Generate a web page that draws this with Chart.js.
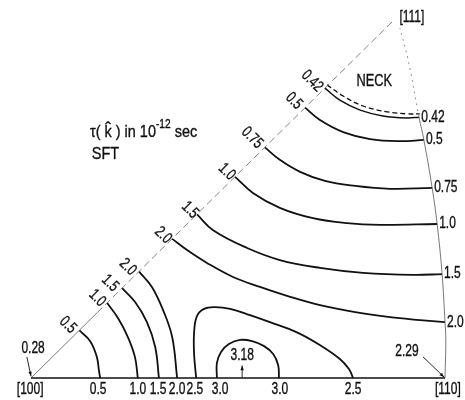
<!DOCTYPE html>
<html>
<head>
<meta charset="utf-8">
<script src="https://cdn.jsdelivr.net/npm/chart.js@4/dist/chart.umd.min.js"></script>
<style>
  html, body { margin: 0; padding: 0; background: #fff; }
  canvas { display: block; }
</style>
</head>
<body>
<canvas id="tau" width="465" height="400"></canvas>
<script>
// Irreducible triangle: [100] at the origin, [110] at x = 100 (same units on both axes)
const edgeBottom = [[0, 0], [100, 0]];
const edgeLeftLow = [[0, 0], [16, 15.8]];
const edgeLeftHigh = [[16, 15.8], [87.4, 86.2]];
const edgeRight = [[100, 0], [100.2, 9.2], [100, 13.5], [99.3, 25.1], [98.1, 37.2], [96.9, 45.9], [94.9, 57.5], [93.7, 63.0]];
const edgeRightTop = [[93.7, 63.0], [91.1, 76.8], [89.1, 84.5]];

// Contours of tau(k) in 1e-12 s, lower family ([100]-edge to bottom edge)
const tau050Low = [[11.7, 11.5], [14.3, 8.9], [15.9, 5.1], [16.4, 1.9], [16.7, 0]];
const tau100Low = [[18.4, 18.1], [21.0, 14.5], [23.4, 9.9], [25.1, 5.1], [25.8, 0]];
const tau150Low = [[22.0, 21.7], [25.1, 18.4], [28.0, 13.5], [30.0, 7.5], [30.9, 0]];
const tau200Low = [[26.1, 25.7], [29.2, 22.0], [31.9, 16.4], [34.1, 9.9], [35.3, 0]];
const tau250 = [[39.9, 0], [39.4, 5.6], [39.4, 11.1], [40.1, 15.0], [41.8, 16.7], [44.4, 17.1], [48.1, 16.7],
                [52.9, 15.2], [57.7, 13.5], [64.5, 10.9], [70.5, 7.5], [74.6, 4.6], [76.8, 2.2], [77.8, 0]];
const tau300 = [[44.9, 0], [44.9, 3.6], [45.9, 6.3], [47.8, 8.2], [50.5, 9.2], [53.4, 8.9], [56.3, 7.7],
                [58.5, 5.8], [59.7, 3.1], [59.9, 0]];

// Upper family (left edge to right edge)
const tau200High = [[34.1, 33.6], [37.7, 30.9], [42.5, 27.8], [48.8, 24.4], [55.3, 22.0], [62.6, 19.6],
                    [69.8, 17.6], [78.3, 15.9], [86.7, 14.7], [94.0, 14.0], [100, 13.5]];
const tau150High = [[40.1, 39.5], [44.0, 35.7], [52.2, 31.4], [60.1, 28.5], [69.8, 26.6], [80.2, 25.4],
                    [92.3, 24.9], [99.3, 25.1]];
const tau100High = [[49.3, 48.6], [53.6, 44.7], [60.1, 41.1], [68.1, 38.6], [76.3, 37.4], [84.3, 37.0], [98.1, 37.2]];
const tau075 = [[56.5, 55.7], [60.1, 52.7], [65.0, 49.8], [71.0, 47.6], [78.3, 46.4], [86.7, 45.7], [96.9, 45.9]];
const tau050High = [[66.2, 65.3], [69.8, 62.3], [75.4, 59.4], [81.9, 57.7], [89.1, 57.2], [94.9, 57.5]];
const tau042 = [[71.0, 70.0], [74.6, 67.1], [79.5, 64.7], [85.0, 63.3], [90.8, 62.8], [93.8, 63.0]];
const tau042Neck = [[71.5, 70.8], [75.4, 68.1], [80.2, 65.7], [86.0, 64.3], [90.8, 63.8], [93.9, 63.8]];

const upperContours = [tau200High, tau150High, tau100High, tau075, tau050High, tau042];
const upperLevels = ['2.0', '1.5', '1.0', '0.75', '0.5', '0.42'];

// Level labels along the [100]-[111] edge
const leftLabelText = ['0.5', '1.0', '1.5', '2.0', '2.0', '1.5', '1.0', '0.75', '0.5', '0.42'];
const leftLabelX = [8.9, 16.0, 19.1, 23.4, 31.9, 38.4, 47.3, 53.4, 63.5, 67.9];
const leftLabelY = [12.8, 19.3, 22.9, 26.8, 34.5, 40.6, 49.8, 58.0, 66.9, 71.7];

// Labels under the [100]-[110] edge
const bottomLabelText = ['[100]', '0.5', '1.0', '1.5', '2.0', '2.5', '3.0', '3.0', '2.5', '[110]'];
const bottomLabelX = [-0.2, 16.2, 25.8, 30.7, 35.3, 39.6, 45.7, 60.1, 77.8, 100.7];

// Extremal values with arrows: text, label position, arrow tail, arrow head
const extremaText = ['0.28', '3.18', '2.29'];
const extremaLabel = [[0.5, 7.2], [51.0, 5.3], [90.8, 6.5]];
const extremaTail = [[-1.0, 5.1], [51.0, 0.1], [94.7, 5.1]];
const extremaHead = [[0.0, 0.4], [51.0, 3.0], [99.8, 0.2]];

const FONT = '"Liberation Sans", Arial, sans-serif';
const INK = '#111';

function line(pts, extra) {
  return Object.assign({
    data: pts.map(([x, y]) => ({ x, y })),
    showLine: true,
    borderColor: INK,
    borderWidth: 1.8,
    pointRadius: 0,
    tension: 0.4,
    fill: false
  }, extra || {});
}

function drawText(ctx, str, X, Y, o) {
  o = o || {};
  ctx.save();
  ctx.translate(X, Y);
  if (o.rot) ctx.rotate(o.rot);
  ctx.scale(o.squeeze || 0.75, 1);
  ctx.font = (o.size || 16) + 'px ' + FONT;
  ctx.textAlign = o.align || 'center';
  ctx.textBaseline = 'middle';
  ctx.fillStyle = INK;
  ctx.strokeStyle = INK;
  ctx.lineWidth = 0.35;
  ctx.fillText(str, 0, 0);
  ctx.strokeText(str, 0, 0);
  ctx.restore();
}

function textWidth(ctx, str, size, squeeze) {
  ctx.save();
  ctx.font = size + 'px ' + FONT;
  const w = ctx.measureText(str).width * squeeze;
  ctx.restore();
  return w;
}

const annotate = {
  id: 'contourText',
  afterDatasetsDraw(chart) {
    const ctx = chart.ctx;
    const sx = chart.scales.x, sy = chart.scales.y;
    const px = v => sx.getPixelForValue(v);
    const py = v => sy.getPixelForValue(v);

    // labels standing off the [100]-[111] edge
    leftLabelText.forEach((t, i) => {
      drawText(ctx, t, px(leftLabelX[i]), py(leftLabelY[i]), { rot: Math.PI / 4 });
    });

    // labels just outside the [110]-[111] edge, at the contour ends
    upperContours.forEach((c, i) => {
      const [x, y] = c[c.length - 1];
      drawText(ctx, upperLevels[i], px(x) + 2, py(y), { align: 'left' });
    });

    // labels under the bottom edge
    bottomLabelText.forEach((t, i) => {
      drawText(ctx, t, px(bottomLabelX[i]), py(-2.7));
    });

    // extremal values with arrows
    extremaText.forEach((t, i) => {
      drawText(ctx, t, px(extremaLabel[i][0]), py(extremaLabel[i][1]));
      const x0 = px(extremaTail[i][0]), y0 = py(extremaTail[i][1]);
      const x1 = px(extremaHead[i][0]), y1 = py(extremaHead[i][1]);
      ctx.save();
      ctx.strokeStyle = INK;
      ctx.fillStyle = INK;
      ctx.lineWidth = 0.9;
      ctx.beginPath();
      ctx.moveTo(x0, y0);
      ctx.lineTo(x1, y1);
      ctx.stroke();
      const a = Math.atan2(y1 - y0, x1 - x0);
      ctx.beginPath();
      ctx.moveTo(x1, y1);
      ctx.lineTo(x1 - 5 * Math.cos(a - 0.35), y1 - 5 * Math.sin(a - 0.35));
      ctx.lineTo(x1 - 5 * Math.cos(a + 0.35), y1 - 5 * Math.sin(a + 0.35));
      ctx.closePath();
      ctx.fill();
      ctx.restore();
    });

    drawText(ctx, 'NECK', px(82.9), py(71.7), { squeeze: 0.8 });
    drawText(ctx, '[111]', px(92.0), py(87.0));

    // caption: tau(k-hat) in 10^-12 sec / SFT
    let cx = px(14.25);
    const cy = py(59.4);
    const parts = [
      { t: '\u03C4( ', size: 17, dy: 0 },
      { t: 'k', size: 17, dy: 0, hat: true },
      { t: ' ) in 10', size: 17, dy: 0 },
      { t: '-12', size: 12, dy: -7 },
      { t: ' sec', size: 17, dy: 0 }
    ];
    parts.forEach(p => {
      const w = textWidth(ctx, p.t, p.size, 0.85);
      drawText(ctx, p.t, cx, cy + p.dy, { align: 'left', size: p.size, squeeze: 0.85 });
      if (p.hat) drawText(ctx, '\u02C6', cx + w / 2, cy - 3, { size: 17, squeeze: 1 });
      cx += w;
    });
    drawText(ctx, 'SFT', px(14.7), py(54.1), { align: 'left', size: 17, squeeze: 0.85 });
  }
};

const datasets = [
  line(edgeBottom, { borderWidth: 1.6, tension: 0 }),
  line(edgeLeftLow, { borderColor: '#555', borderWidth: 0.8, tension: 0 }),
  line(edgeLeftHigh, { borderColor: '#666', borderWidth: 0.8, tension: 0, borderDash: [7, 4] }),
  line(edgeRight, { borderColor: '#555', borderWidth: 0.8 }),
  line(edgeRightTop, { borderColor: '#777', borderWidth: 0.8, borderDash: [2, 4] }),
  line(tau050Low), line(tau100Low), line(tau150Low), line(tau200Low),
  line(tau250), line(tau300),
  line(tau200High), line(tau150High), line(tau100High), line(tau075), line(tau050High),
  line(tau042, { borderWidth: 1.5 }),
  line(tau042Neck, { borderWidth: 1.3, borderDash: [5, 3] })
];

new Chart(document.getElementById('tau'), {
  type: 'scatter',
  data: { datasets },
  options: {
    responsive: false,
    animation: false,
    events: [],
    layout: { padding: 0 },
    plugins: { legend: { display: false }, tooltip: { enabled: false } },
    scales: {
      x: { type: 'linear', min: -7.49, max: 104.83, display: false },
      y: { type: 'linear', min: -5.31, max: 91.30, display: false }
    }
  },
  plugins: [annotate]
});
</script>
</body>
</html>
